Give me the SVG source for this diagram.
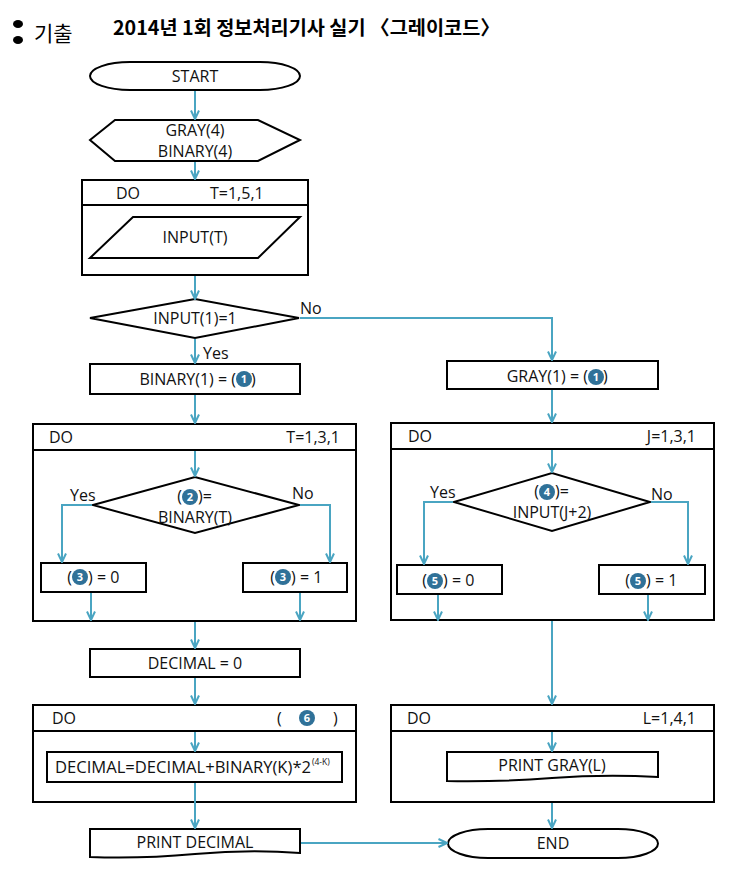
<svg xmlns="http://www.w3.org/2000/svg" width="744" height="882" viewBox="0 0 744 882">
<style>
.n{fill:#fff;stroke:#000;stroke-width:2}
.l{fill:none;stroke:#000;stroke-width:2}
.c{fill:none;stroke:#4aa5c2;stroke-width:2}
.t{font-family:"Open Sans","Noto Sans","Noto Sans CJK KR",sans-serif;font-size:16px;fill:#111}
.m{text-anchor:middle}
.e{text-anchor:end}
.s{font-size:8.5px}
.b{fill:#2f7198}
.bt{font-family:"Open Sans","Noto Sans",sans-serif;font-size:11px;font-weight:bold;fill:#fff;text-anchor:middle}
</style>
<defs>
<marker id="a" viewBox="0 0 10 10" refX="9.5" refY="5" markerWidth="10" markerHeight="10" markerUnits="userSpaceOnUse" orient="auto">
<path d="M1,1 L9.5,5 L1,9" fill="none" stroke="#4aa5c2" stroke-width="2"/>
</marker>
</defs>
<rect width="744" height="882" fill="#fff"/>
<g id="title">
<ellipse cx="18" cy="24" rx="5" ry="4" fill="#000"/>
<ellipse cx="18" cy="40" rx="5" ry="4" fill="#000"/>
<text x="34" y="41" font-family="Noto Sans CJK KR,sans-serif" font-size="21" fill="#000">기출</text>
<text x="113" y="35" font-family="Noto Sans CJK KR,sans-serif" font-size="19.5" font-weight="bold" fill="#000" textLength="387" lengthAdjust="spacingAndGlyphs">2014년 1회 정보처리기사 실기 〈그레이코드〉</text>
</g>
<g id="start">
<rect class="n" x="90" y="62" width="210" height="28" rx="40" ry="14"/>
<text class="t m" x="195" y="82">START</text>
</g>
<g id="decl">
<path class="n" d="M90,140 L115,120 L258,120 L300,140 L258,161 L115,161 Z"/>
<text class="t m" x="195" y="136">GRAY(4)</text>
<text class="t m" x="195" y="157">BINARY(4)</text>
</g>
<g id="loop1">
<rect class="n" x="82" y="180" width="226" height="95"/>
<path class="l" d="M82,205 H308"/>
<text class="t" x="116" y="199">DO</text>
<text class="t" x="210" y="199">T=1,5,1</text>
</g>
<g id="input">
<path class="n" d="M133,217 L300,217 L258,258 L90,258 Z"/>
<text class="t m" x="195" y="243">INPUT(T)</text>
</g>
<g id="cond1">
<path class="n" d="M90,318 L195,299 L299,318 L195,338 Z"/>
<text class="t m" x="195" y="324">INPUT(1)=1</text>
</g>
<g id="bin1">
<rect class="n" x="90" y="364" width="210" height="30"/>
<text class="t e" x="236" y="385">BINARY(1) = (</text>
<circle class="b" cx="244" cy="379" r="8"/>
<text class="bt" x="244" y="383">1</text>
<text class="t" x="251" y="385">)</text>
</g>
<g id="gray1">
<rect class="n" x="447" y="361" width="211" height="28"/>
<text class="t e" x="588" y="382">GRAY(1) = (</text>
<circle class="b" cx="596" cy="377" r="8"/>
<text class="bt" x="596" y="381">1</text>
<text class="t" x="603" y="382">)</text>
</g>
<g id="loop2">
<rect class="n" x="33" y="424" width="323" height="197"/>
<path class="l" d="M33,450 H356"/>
<text class="t" x="49" y="443">DO</text>
<text class="t e" x="340" y="443">T=1,3,1</text>
</g>
<g id="cond2">
<path class="n" d="M93,505 L195,477 L299,505 L195,533 Z"/>
<text class="t e" x="182" y="502">(</text>
<circle class="b" cx="190" cy="497" r="8"/>
<text class="bt" x="190" y="501">2</text>
<text class="t" x="198" y="502">)=</text>
<text class="t m" x="195" y="523">BINARY(T)</text>
</g>
<g id="b0">
<rect class="n" x="41" y="563" width="105" height="29"/>
<text class="t e" x="72" y="583">(</text>
<circle class="b" cx="80" cy="577" r="8"/>
<text class="bt" x="80" y="581">3</text>
<text class="t" x="88" y="583">) = 0</text>
</g>
<g id="b1">
<rect class="n" x="243" y="563" width="104" height="29"/>
<text class="t e" x="275" y="583">(</text>
<circle class="b" cx="283" cy="577" r="8"/>
<text class="bt" x="283" y="581">3</text>
<text class="t" x="291" y="583">) = 1</text>
</g>
<g id="loop3">
<rect class="n" x="391" y="423" width="323" height="197"/>
<path class="l" d="M391,449 H714"/>
<text class="t" x="408" y="442">DO</text>
<text class="t e" x="696" y="442">J=1,3,1</text>
</g>
<g id="cond3">
<path class="n" d="M454,502 L552,473 L650,502 L552,531 Z"/>
<text class="t e" x="539" y="497">(</text>
<circle class="b" cx="547" cy="492" r="8"/>
<text class="bt" x="547" y="496">4</text>
<text class="t" x="555" y="497">)=</text>
<text class="t m" x="552" y="518">INPUT(J+2)</text>
</g>
<g id="g0">
<rect class="n" x="397" y="565" width="105" height="29"/>
<text class="t e" x="427" y="586">(</text>
<circle class="b" cx="435" cy="581" r="8"/>
<text class="bt" x="435" y="585">5</text>
<text class="t" x="443" y="586">) = 0</text>
</g>
<g id="g1">
<rect class="n" x="599" y="565" width="106" height="29"/>
<text class="t e" x="630" y="586">(</text>
<circle class="b" cx="638" cy="581" r="8"/>
<text class="bt" x="638" y="585">5</text>
<text class="t" x="646" y="586">) = 1</text>
</g>
<g id="dec0">
<rect class="n" x="90" y="649" width="210" height="28"/>
<text class="t m" x="195" y="669">DECIMAL = 0</text>
</g>
<g id="loop5">
<rect class="n" x="33" y="705" width="323" height="97"/>
<path class="l" d="M33,731 H356"/>
<text class="t" x="52" y="724">DO</text>
<text class="t" x="277" y="724">(</text>
<circle class="b" cx="307" cy="718" r="8"/>
<text class="bt" x="307" y="722">6</text>
<text class="t" x="333" y="724">)</text>
</g>
<g id="calc">
<rect class="n" x="47" y="752" width="295" height="30"/>
<text class="t" x="55" y="773" textLength="256" lengthAdjust="spacingAndGlyphs">DECIMAL=DECIMAL+BINARY(K)*2</text>
<text class="t s" x="312" y="765">(4-K)</text>
</g>
<g id="printdec">
<path class="n" d="M90,829 H300 V853 Q250,849 195,854 T90,857 Z"/>
<text class="t m" x="195" y="848">PRINT DECIMAL</text>
</g>
<g id="loop4">
<rect class="n" x="391" y="705" width="323" height="97"/>
<path class="l" d="M391,731 H714"/>
<text class="t" x="407" y="724">DO</text>
<text class="t e" x="696" y="724">L=1,4,1</text>
</g>
<g id="printgray">
<path class="n" d="M447,752 H658 V777 Q605,774 552,778 T447,781 Z"/>
<text class="t m" x="552" y="771">PRINT GRAY(L)</text>
</g>
<g id="end">
<rect class="n" x="448" y="829" width="210" height="29" rx="40" ry="14.5"/>
<text class="t m" x="553" y="849">END</text>
</g>
<g id="connectors">
<path class="c" marker-end="url(#a)" d="M195,91 V119"/>
<path class="c" marker-end="url(#a)" d="M195,162 V179"/>
<path class="c" marker-end="url(#a)" d="M195,276 V299"/>
<path class="c" marker-end="url(#a)" d="M195,339 V363"/>
<path class="c" marker-end="url(#a)" d="M300,318 H552 V360"/>
<path class="c" marker-end="url(#a)" d="M195,395 V423"/>
<path class="c" marker-end="url(#a)" d="M195,451 V476"/>
<path class="c" marker-end="url(#a)" d="M92,505 H62 V562"/>
<path class="c" marker-end="url(#a)" d="M300,505 H330 V562"/>
<path class="c" marker-end="url(#a)" d="M91,593 V620"/>
<path class="c" marker-end="url(#a)" d="M300,593 V620"/>
<path class="c" marker-end="url(#a)" d="M195,622 V648"/>
<path class="c" marker-end="url(#a)" d="M552,390 V422"/>
<path class="c" marker-end="url(#a)" d="M552,450 V472"/>
<path class="c" marker-end="url(#a)" d="M453,502 H424 V564"/>
<path class="c" marker-end="url(#a)" d="M651,502 H688 V564"/>
<path class="c" marker-end="url(#a)" d="M438,595 V620"/>
<path class="c" marker-end="url(#a)" d="M648,595 V620"/>
<path class="c" marker-end="url(#a)" d="M552,621 V704"/>
<path class="c" marker-end="url(#a)" d="M195,678 V704"/>
<path class="c" marker-end="url(#a)" d="M195,732 V751"/>
<path class="c" marker-end="url(#a)" d="M195,783 V828"/>
<path class="c" marker-end="url(#a)" d="M552,732 V751"/>
<path class="c" marker-end="url(#a)" d="M552,803 V828"/>
<path class="c" marker-end="url(#a)" d="M301,843 H447"/>
<text class="t" x="300" y="314">No</text>
<text class="t" x="203" y="359">Yes</text>
<text class="t" x="70" y="501">Yes</text>
<text class="t" x="292" y="499">No</text>
<text class="t" x="430" y="498">Yes</text>
<text class="t" x="651" y="500">No</text>
</g>
</svg>
